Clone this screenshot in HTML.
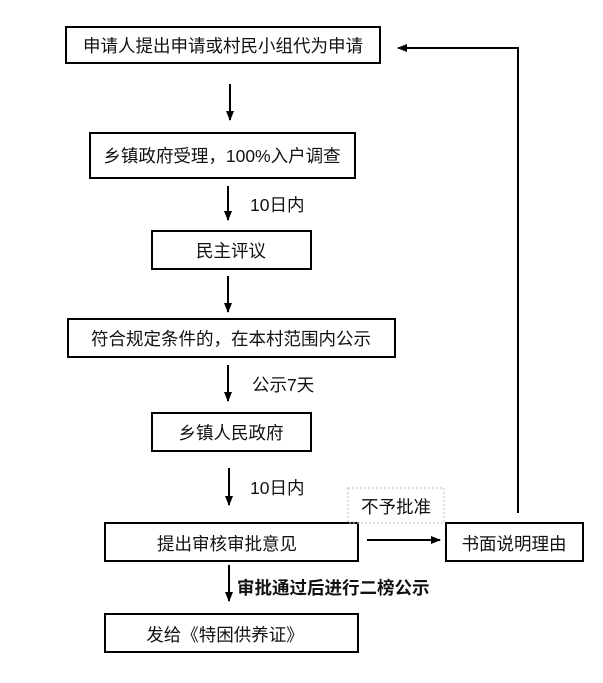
<!DOCTYPE html>
<html><head><meta charset="utf-8"><style>
html,body{margin:0;padding:0;background:#fff;}
svg{display:block;}
text{font-family:"Liberation Sans","Noto Sans CJK SC",sans-serif;font-size:17.5px;fill:#111;}
</style></head><body>
<svg width="603" height="683" viewBox="0 0 603 683">
<defs><marker id="a" markerWidth="10" markerHeight="10" refX="9" refY="5" orient="auto" markerUnits="userSpaceOnUse"><path d="M0,1 L10,5 L0,9 Z" fill="#000"/></marker></defs>
<g fill="none" stroke="#000" stroke-width="2">
<rect x="66" y="27" width="314" height="36"/>
<rect x="90" y="133" width="265" height="45"/>
<rect x="152" y="231" width="159" height="38"/>
<rect x="68" y="319" width="327" height="38"/>
<rect x="152" y="413" width="159" height="38"/>
<rect x="105" y="523" width="253" height="38"/>
<rect x="446" y="523" width="137" height="38"/>
<rect x="105" y="614" width="253" height="38"/>
</g>
<rect x="348" y="488" width="96" height="35" fill="none" stroke="#bbb" stroke-width="1" stroke-dasharray="2,2"/>
<g stroke="#000" stroke-width="2" fill="none">
<line x1="230" y1="84" x2="230" y2="120" marker-end="url(#a)"/>
<line x1="228" y1="186" x2="228" y2="220" marker-end="url(#a)"/>
<line x1="228" y1="276" x2="228" y2="312" marker-end="url(#a)"/>
<line x1="228" y1="365" x2="228" y2="401" marker-end="url(#a)"/>
<line x1="229" y1="468" x2="229" y2="505" marker-end="url(#a)"/>
<line x1="229" y1="565" x2="229" y2="601" marker-end="url(#a)"/>
<line x1="367" y1="540" x2="440" y2="540" marker-end="url(#a)"/>
<polyline points="518,513 518,48 497,48"/>
<line x1="497" y1="48" x2="398" y2="48" marker-end="url(#a)"/>
</g>
<text x="223" y="52" text-anchor="middle">申请人提出申请或村民小组代为申请</text>
<text x="222" y="162" text-anchor="middle">乡镇政府受理，100%入户调查</text>
<text x="250" y="211">10日内</text>
<text x="231" y="257" text-anchor="middle">民主评议</text>
<text x="231" y="345" text-anchor="middle">符合规定条件的，在本村范围内公示</text>
<text x="252" y="391">公示7天</text>
<text x="231" y="439" text-anchor="middle">乡镇人民政府</text>
<text x="250" y="494">10日内</text>
<text x="396" y="513" text-anchor="middle">不予批准</text>
<text x="227" y="550" text-anchor="middle">提出审核审批意见</text>
<text x="514" y="550" text-anchor="middle">书面说明理由</text>
<text x="237" y="594" font-weight="bold">审批通过后进行二榜公示</text>
<text x="225" y="641" text-anchor="middle">发给《特困供养证》</text>
</svg>
</body></html>
